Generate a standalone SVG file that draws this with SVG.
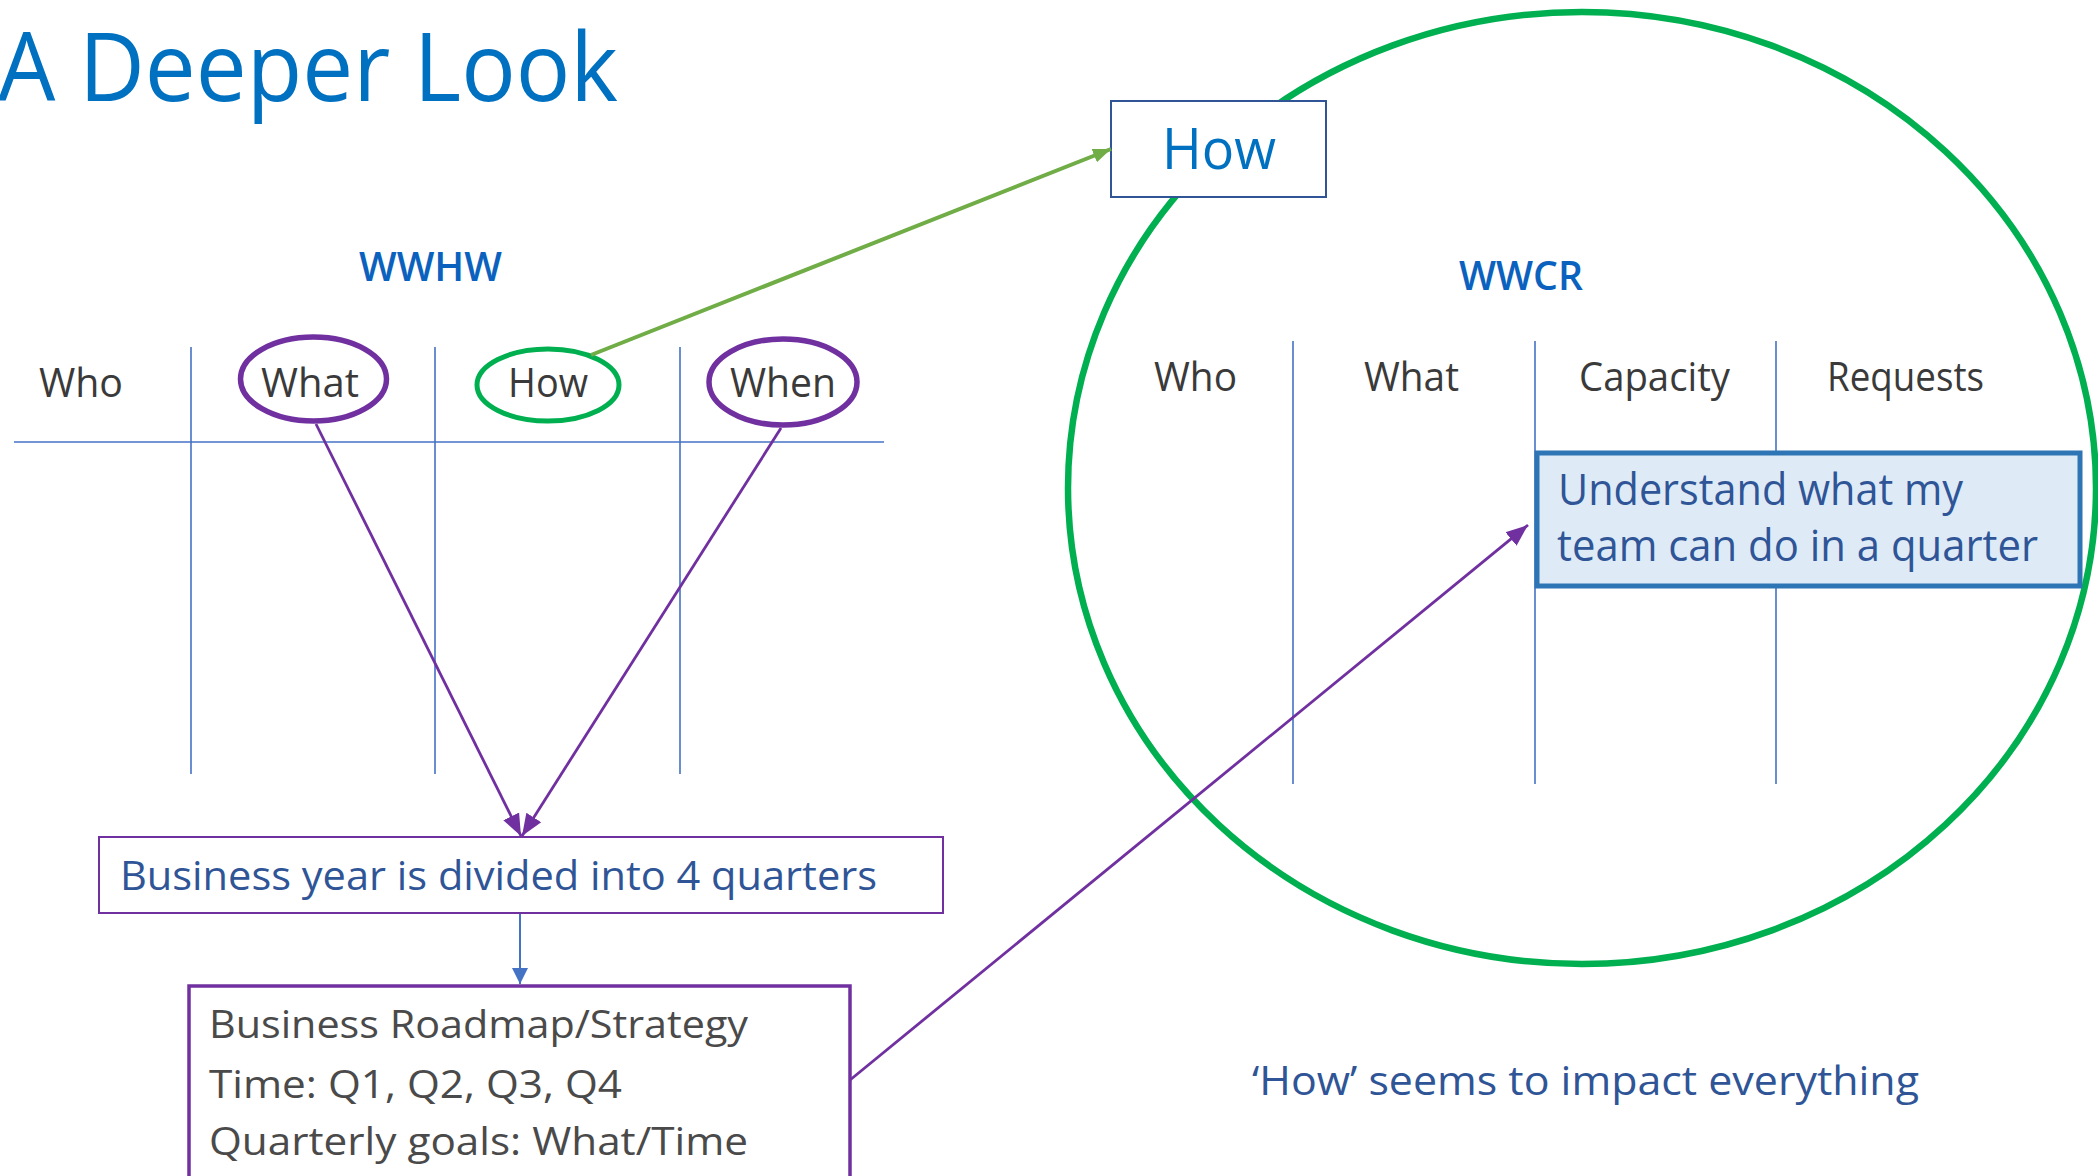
<svg xmlns="http://www.w3.org/2000/svg" width="2098" height="1176" viewBox="0 0 2098 1176">
<style>
text{font-family:"Open Sans","Noto Sans","Liberation Sans",sans-serif}
.hdr{font-size:40px;fill:#3A3A3A}
.grid{stroke:#4472C4;stroke-width:1.6;fill:none}
.tag{font-size:40px;font-weight:600;fill:#0B62BE}
.pl{stroke:#7030A0;stroke-width:2.8;fill:none}
</style>
<defs>
<marker id="mp" markerUnits="userSpaceOnUse" markerWidth="22" markerHeight="22" viewBox="0 0 20 20" refX="20" refY="10" orient="auto"><path d="M0,2 L20,10 L0,18 Z" fill="#7030A0"/></marker>
<marker id="mg" markerUnits="userSpaceOnUse" markerWidth="18" markerHeight="18" viewBox="0 0 20 20" refX="20" refY="10" orient="auto"><path d="M0,2 L20,10 L0,18 Z" fill="#70AD47"/></marker>
<marker id="mb" markerUnits="userSpaceOnUse" markerWidth="16" markerHeight="16" viewBox="0 0 20 20" refX="20" refY="10" orient="auto"><path d="M0,0 L20,10 L0,20 Z" fill="#4472C4"/></marker>
</defs>
<rect width="2098" height="1176" fill="#ffffff"/>

<g id="title"><text x="-2" y="101" font-size="96" fill="#0070C0" textLength="620" lengthAdjust="spacingAndGlyphs">A Deeper Look</text></g>

<g id="wwhw-table">
<text class="tag" x="359" y="281" textLength="143" lengthAdjust="spacingAndGlyphs">WWHW</text>
<line class="grid" x1="14" y1="442" x2="884" y2="442" stroke-width="2.4"/>
<line class="grid" x1="191" y1="347" x2="191" y2="774"/>
<line class="grid" x1="435" y1="347" x2="435" y2="774"/>
<line class="grid" x1="680" y1="347" x2="680" y2="774"/>
<text class="hdr" x="39" y="397" textLength="84" lengthAdjust="spacingAndGlyphs">Who</text>
<text class="hdr" x="261" y="397" textLength="98" lengthAdjust="spacingAndGlyphs">What</text>
<text class="hdr" x="508" y="397" textLength="80" lengthAdjust="spacingAndGlyphs">How</text>
<text class="hdr" x="730" y="397" textLength="106" lengthAdjust="spacingAndGlyphs">When</text>
</g>
<g id="what-ring"><ellipse cx="313.5" cy="379" rx="73" ry="42" fill="none" stroke="#7030A0" stroke-width="5.5"/></g>
<g id="how-ring"><ellipse cx="548" cy="385" rx="71" ry="36" fill="none" stroke="#00B050" stroke-width="5"/></g>
<g id="when-ring"><ellipse cx="783" cy="382" rx="74" ry="43" fill="none" stroke="#7030A0" stroke-width="5.5"/></g>

<g id="big-circle"><ellipse cx="1582" cy="488" rx="514" ry="476" fill="none" stroke="#00B050" stroke-width="6.5"/></g>

<g id="wwcr-table">
<text class="tag" x="1459" y="290" textLength="124" lengthAdjust="spacingAndGlyphs">WWCR</text>
<line class="grid" x1="1293" y1="341" x2="1293" y2="784"/>
<line class="grid" x1="1535" y1="341" x2="1535" y2="784"/>
<line class="grid" x1="1776" y1="341" x2="1776" y2="784"/>
<text class="hdr" x="1154" y="391" textLength="83" lengthAdjust="spacingAndGlyphs">Who</text>
<text class="hdr" x="1364" y="391" textLength="95" lengthAdjust="spacingAndGlyphs">What</text>
<text class="hdr" x="1579" y="391" textLength="151" lengthAdjust="spacingAndGlyphs">Capacity</text>
<text class="hdr" x="1827" y="391" textLength="157" lengthAdjust="spacingAndGlyphs">Requests</text>
</g>

<g id="how-box">
<rect x="1111" y="101" width="215" height="96" fill="#ffffff" stroke="#2F5597" stroke-width="2"/>
<text x="1162" y="169" font-size="57" fill="#0070C0" textLength="114" lengthAdjust="spacingAndGlyphs">How</text>
</g>

<g id="capacity-box">
<rect x="1537" y="453" width="543" height="133" fill="#DEEBF7" stroke="#2E75B6" stroke-width="5"/>
<text x="1558" y="505" font-size="43" fill="#2F5597" textLength="405" lengthAdjust="spacingAndGlyphs">Understand what my</text>
<text x="1557" y="561" font-size="43" fill="#2F5597" textLength="481" lengthAdjust="spacingAndGlyphs">team can do in a quarter</text>
</g>

<g id="quarters-box">
<rect x="99" y="837" width="844" height="76" fill="#ffffff" stroke="#7030A0" stroke-width="2"/>
<text x="120" y="890" font-size="40" fill="#2F5597" textLength="757" lengthAdjust="spacingAndGlyphs">Business year is divided into 4 quarters</text>
</g>

<g id="roadmap-box">
<rect x="189" y="986" width="661" height="220" fill="#ffffff" stroke="#7030A0" stroke-width="3.5"/>
<text x="209" y="1038" font-size="38" fill="#4A4A4A" textLength="539" lengthAdjust="spacingAndGlyphs">Business Roadmap/Strategy</text>
<text x="209" y="1098" font-size="38" fill="#4A4A4A" textLength="413" lengthAdjust="spacingAndGlyphs">Time: Q1, Q2, Q3, Q4</text>
<text x="209" y="1155" font-size="38" fill="#4A4A4A" textLength="539" lengthAdjust="spacingAndGlyphs">Quarterly goals: What/Time</text>
</g>

<g id="note"><text x="1252" y="1095" font-size="40" fill="#2F5597" textLength="667" lengthAdjust="spacingAndGlyphs">‘How’ seems to impact everything</text></g>

<g id="connectors">
<line x1="591" y1="355" x2="1111" y2="149" stroke="#70AD47" stroke-width="4" marker-end="url(#mg)"/>
<line class="pl" x1="316" y1="424" x2="521" y2="836" marker-end="url(#mp)"/>
<line class="pl" x1="781" y1="428" x2="522" y2="836" marker-end="url(#mp)"/>
<line x1="520" y1="914" x2="520" y2="984" stroke="#4472C4" stroke-width="2" marker-end="url(#mb)"/>
<line class="pl" x1="850" y1="1080" x2="1528" y2="525" marker-end="url(#mp)"/>
</g>
</svg>
